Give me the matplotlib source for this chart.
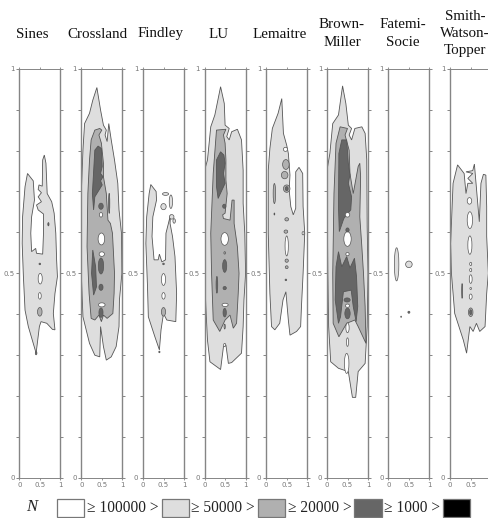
import matplotlib
matplotlib.use("Agg")
import matplotlib.pyplot as plt
from matplotlib.patches import Ellipse, Rectangle

# ---------- data: contour outlines in chart units (x, y) ----------
sines_light = [(.20,.744),(.34,.726),(.37,.679),(.30,.638),(.28,.598),(.30,.553),(.40,.561),(.42,.549),(.57,.547),(.59,.598),(.59,.645),(.46,.655),(.42,.667),(.54,.675),(.46,.687),(.54,.697),(.46,.705),(.48,.716),(.56,.713),(.57,.777),(.61,.789),(.65,.769),(.68,.695),(.79,.675),(.85,.647),(.89,.598),(.91,.533),(.93,.492),(.87,.451),(.83,.402),(.87,.362),(.81,.363),(.67,.378),(.53,.382),(.49,.370),(.41,.305),(.34,.329),(.22,.370),(.14,.410),(.10,.492),(.07,.573),(.08,.638),(.14,.712)]
sines_spots = [(.51,.487,.10,.026,0),(.50,.445,.07,.016,0),(.50,.406,.11,.021,2),(.50,.523,.04,.004,3),(.71,.62,.03,.008,3),(.41,.305,.04,.008,3)]

crossland_light = [(.38,.954),(.47,.899),(.54,.862),(.61,.850),(.58,.838),(.63,.822),(.67,.866),(.73,.826),(.81,.777),(.89,.720),(.92,.655),(.98,.598),(.99,.5),(.93,.435),(.92,.370),(.85,.321),(.73,.296),(.61,.288),(.54,.321),(.47,.370),(.45,.296),(.33,.300),(.20,.329),(.04,.394),(0,.5),(0,.695),(.04,.801),(.08,.866),(.20,.891),(.28,.923)]
crossland_mid = [(.45,.854),(.50,.850),(.43,.838),(.49,.818),(.54,.769),(.54,.736),(.61,.695),(.65,.630),(.71,.622),(.76,.598),(.81,.5),(.80,.451),(.77,.402),(.63,.390),(.54,.398),(.49,.382),(.43,.398),(.33,.386),(.24,.390),(.19,.451),(.14,.565),(.16,.695),(.20,.777),(.24,.826),(.33,.850)]
crossland_dark_a = [(.41,.811),(.49,.805),(.51,.761),(.47,.744),(.53,.736),(.47,.726),(.51,.716),(.33,.687),(.30,.655),(.27,.695),(.33,.801)]
crossland_dark_b = [(.28,.557),(.35,.516),(.37,.467),(.30,.447),(.25,.5)]
crossland_spots = [(.48,.518,.13,.039,3),(.48,.466,.10,.015,3),(.48,.404,.10,.023,3),(.48,.664,.11,.015,3),(.49,.584,.16,.029,0),(.50,.547,.13,.011,0),(.50,.423,.16,.010,0),(.48,.643,.08,.011,0),(.68,.671,.03,.049,3)]

findley_light = [(.19,.717),(.32,.700),(.33,.679),(.24,.638),(.22,.590),(.27,.533),(.37,.533),(.40,.547),(.46,.528),(.55,.533),(.56,.598),(.62,.622),(.67,.643),(.66,.622),(.72,.590),(.78,.541),(.82,.451),(.80,.382),(.58,.386),(.50,.402),(.44,.362),(.40,.313),(.29,.345),(.13,.394),(.11,.467),(.07,.573),(.09,.638),(.15,.695)]
findley_spots = [(.55,.694,.15,.007,1),(.50,.663,.13,.015,1),(.68,.675,.08,.033,1),(.70,.638,.11,.011,1),(.76,.628,.06,.011,1),(.50,.485,.10,.029,0),(.50,.445,.08,.016,0),(.50,.406,.10,.021,2),(.50,.523,.04,.004,3),(.40,.308,.03,.004,3)]

lu_light = [(.39,.956),(.48,.915),(.50,.862),(.60,.854),(.54,.834),(.60,.826),(.66,.846),(.80,.852),(.90,.826),(.94,.752),(.94,.671),(.98,.598),(1.0,.5),(.96,.435),(.94,.370),(.90,.305),(.66,.282),(.58,.280),(.52,.325),(.46,.321),(.39,.265),(.13,.284),(.07,.337),(.03,.419),(0,.5),(0,.752),(.07,.777),(.15,.858),(.25,.887)]
lu_mid = [(.29,.850),(.52,.852),(.46,.838),(.50,.818),(.52,.777),(.52,.728),(.55,.695),(.50,.647),(.44,.643),(.46,.634),(.62,.630),(.67,.679),(.72,.679),(.72,.622),(.80,.565),(.84,.5),(.82,.451),(.78,.378),(.70,.366),(.62,.398),(.50,.386),(.37,.358),(.21,.386),(.17,.5),(.15,.598),(.21,.744)]
lu_dark = [(.39,.797),(.47,.789),(.50,.769),(.46,.744),(.50,.720),(.33,.683),(.29,.712),(.29,.777)]
lu_spots = [(.30,.472,.04,.041,3),(.49,.518,.10,.031,3),(.49,.464,.08,.008,3),(.49,.404,.08,.021,3),(.48,.664,.08,.010,3),(.49,.584,.18,.031,0),(.50,.423,.15,.008,0),(.49,.550,.04,.006,2),(.49,.370,.03,.012,2),(.49,.325,.05,.008,0)]

lemaitre_light = [(.38,.927),(.42,.842),(.50,.813),(.54,.793),(.58,.740),(.56,.704),(.60,.663),(.66,.643),(.72,.659),(.72,.748),(.80,.759),(.89,.744),(.90,.663),(.94,.598),(.90,.5),(.86,.419),(.84,.370),(.74,.358),(.58,.349),(.54,.386),(.48,.455),(.41,.435),(.33,.378),(.21,.362),(.13,.370),(.09,.451),(.05,.598),(.05,.752),(.09,.805),(.15,.854),(.29,.891)]
lemaitre_spots = [(.48,.766,.16,.024,2),(.45,.740,.16,.018,2),(.50,.707,.16,.018,2),(.50,.707,.07,.010,3),(.20,.695,.06,.049,2),(.20,.645,.02,.005,3),(.47,.803,.10,.010,0),(.50,.567,.08,.049,0),(.48,.602,.09,.008,2),(.50,.632,.09,.008,2),(.50,.531,.08,.008,2),(.50,.515,.07,.007,2),(.48,.484,.04,.004,3),(.90,.598,.05,.008,0)]

brown_light = [(.38,.958),(.46,.915),(.52,.862),(.60,.854),(.54,.838),(.60,.826),(.68,.854),(.85,.858),(.93,.842),(.97,.777),(.98,.614),(1.0,.5),(.98,.370),(.93,.280),(.76,.260),(.70,.197),(.62,.197),(.52,.260),(.28,.268),(.09,.284),(.04,.370),(.02,.5),(0,.752),(.07,.793),(.14,.866),(.28,.887)]
brown_mid = [(.32,.858),(.50,.854),(.44,.838),(.54,.801),(.56,.744),(.64,.695),(.76,.761),(.80,.769),(.82,.736),(.80,.638),(.85,.565),(.89,.5),(.93,.419),(.95,.329),(.76,.370),(.68,.386),(.48,.378),(.29,.345),(.15,.378),(.14,.5),(.17,.695),(.22,.818)]
brown_dark_a = [(.36,.826),(.48,.826),(.52,.769),(.56,.741),(.52,.720),(.60,.687),(.58,.655),(.41,.634),(.30,.602),(.28,.663),(.29,.793)]
brown_dark_b = [(.28,.553),(.36,.516),(.48,.541),(.56,.513),(.67,.537),(.72,.492),(.75,.419),(.71,.382),(.64,.419),(.59,.459),(.40,.455),(.33,.394),(.28,.378),(.20,.435),(.22,.516)]
brown_spots = [(.49,.435,.15,.010,3),(.50,.402,.13,.026,3),(.50,.584,.18,.036,0),(.50,.643,.11,.011,0),(.50,.606,.08,.010,3),(.50,.547,.08,.008,0),(.50,.421,.10,.008,0),(.50,.367,.08,.024,0),(.50,.332,.05,.021,0),(.48,.280,.11,.049,0)]

fatemi_spots = [(.20,.522,.11,.081,1),(.50,.522,.16,.016,1),(.50,.405,.05,.005,3),(.31,.394,.02,.003,2)]

smith_light = [(.18,.765),(.34,.744),(.385,.695),(.43,.72),(.55,.72),(.43,.732),(.55,.744),(.385,.748),(.55,.751),(.59,.767),(.63,.72),(.71,.626),(.75,.72),(.81,.742),(.87,.74),(.89,.663),(.89,.590),(.93,.5),(.89,.451),(.85,.370),(.72,.358),(.64,.378),(.56,.358),(.48,.370),(.40,.305),(.32,.337),(.11,.402),(.03,.5),(.01,.573),(.07,.720)]
smith_spots = [(.47,.677,.11,.016,0),(.48,.630,.13,.041,0),(.48,.569,.10,.045,0),(.50,.523,.05,.008,0),(.50,.508,.05,.008,0),(.50,.486,.07,.021,0),(.50,.443,.07,.013,0),(.50,.463,.04,.005,0),(.50,.405,.11,.021,2),(.50,.405,.05,.012,3),(.29,.457,.02,.036,3)]

panel_polys = [
    [(sines_light, 1)],
    [(crossland_light, 1), (crossland_mid, 2), (crossland_dark_a, 3), (crossland_dark_b, 3)],
    [(findley_light, 1)],
    [(lu_light, 1), (lu_mid, 2), (lu_dark, 3)],
    [(lemaitre_light, 1)],
    [(brown_light, 1), (brown_mid, 2), (brown_dark_a, 3), (brown_dark_b, 3)],
    [],
    [(smith_light, 1)],
]
panel_spots = [sines_spots, crossland_spots, findley_spots, lu_spots,
               lemaitre_spots, brown_spots, fatemi_spots, smith_spots]

titles = ["Sines", "Crossland", "Findley", "LU", "Lemaitre",
          "Brown-\nMiller", "Fatemi-\nSocie", "Smith-\nWatson-\nTopper"]
legend_labels = ["\u2265 100000 >", "\u2265 50000 >", "\u2265 20000 >", "\u2265 1000 >"]
level_colors = ["#ffffff", "#dedede", "#b0b0b0", "#666666", "#000000"]

# ---------- layout (pixels) ----------
W, H = 489, 518
panel_left = [19.3, 81.3, 143, 204.6, 266.2, 327, 388.4, 450.2]
panel_width = 41
y_top, y_bottom = 68.7, 478
title_x = [32, 97, 161, 219, 280, 342, 403, 465]
title_y = [34, 34, 34, 34, 34, 33.5, 33.5, 33.5]
box_left = [57, 162, 258, 354, 443]
box_width = 27.5
label_x = [87.5, 191, 288, 384]

plt.rcParams["font.family"] = ["Liberation Serif", "DejaVu Serif"]
fig = plt.figure(figsize=(W / 100, H / 100), dpi=100, facecolor="white")
EDGE = "#555555"
AX = "#858585"

for i, left in enumerate(panel_left):
    ax = fig.add_axes([left / W, (H - y_bottom) / H, panel_width / W, (y_bottom - y_top) / H])
    ax.set_xlim(0, 1)
    ax.set_ylim(0, 1)
    for pts, lev in panel_polys[i]:
        xs, ys = zip(*pts)
        ax.fill(xs, ys, facecolor=level_colors[lev], edgecolor=EDGE, linewidth=0.6, zorder=lev + 1)
    for (x, y, w, h, lev) in panel_spots[i]:
        ax.add_patch(Ellipse((x, y), w, h, facecolor=level_colors[lev], edgecolor=EDGE,
                             linewidth=0.5, zorder=6))
    for name, sp in ax.spines.items():
        sp.set_color(AX)
        sp.set_linewidth(1.0 if name in ("left", "right") else 0.7)
    ax.set_yticks([k / 10 for k in range(11)])
    ax.set_yticklabels(["0", "", "", "", "", "0.5", "", "", "", "", "1"],
                       fontsize=5, color="#777777", family=["DejaVu Sans"])
    ax.set_xticks([0, .5, 1])
    x_labels = ["0", "0.5", "1"] if i < len(panel_left) - 1 else ["0", "0.5", ""]
    ax.set_xticklabels(x_labels, fontsize=5, color="#777777", family=["DejaVu Sans"])
    ax.tick_params(axis="y", left=True, right=True, length=2.2, width=0.7, color=AX, pad=1.2)
    ax.tick_params(axis="x", top=True, bottom=True, length=1.2, width=0.6, color=AX, pad=1.5)
    fig.text(title_x[i] / W, 1 - title_y[i] / H, titles[i], ha="center", va="center",
             fontsize=10.8, color="#111111", linespacing=1.42, multialignment="center")

fig.text(32 / W, 1 - 507 / H, "N", fontsize=12, style="italic", ha="center", va="center", color="#222222")
for k, bx in enumerate(box_left):
    fig.add_artist(Rectangle((bx / W, 1 - 517 / H), box_width / W, 18.5 / H,
                             transform=fig.transFigure, facecolor=level_colors[k],
                             edgecolor="#777777", linewidth=0.9))
for k, lx in enumerate(label_x):
    fig.text(lx / W, 1 - 508 / H, legend_labels[k], fontsize=11.2, ha="left", va="center", color="#222222")

fig.savefig("out.png", dpi=100)
